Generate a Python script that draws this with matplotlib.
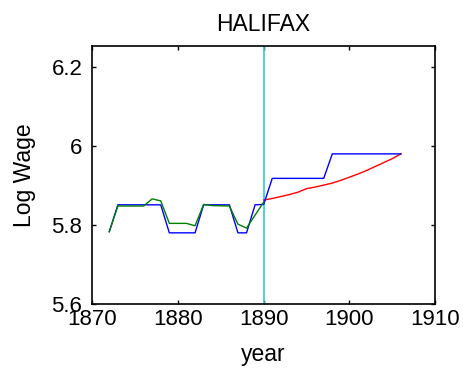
import numpy as np
import matplotlib
matplotlib.use('Agg')
import matplotlib.pyplot as plt
from matplotlib.ticker import FuncFormatter

# observed wage (blue), fitted wage (green) and projected wage (red)
blue_years = [1872, 1873, 1878, 1879, 1882, 1883, 1886, 1887, 1888, 1889, 1890, 1891, 1897, 1898, 1906]
blue_wage = [5.783, 5.851, 5.851, 5.780, 5.780, 5.851, 5.851, 5.780, 5.780, 5.851, 5.852, 5.918, 5.918, 5.980, 5.980]

green_years = [1872, 1873, 1876, 1877, 1878, 1879, 1881, 1882, 1883, 1884, 1886, 1887, 1888, 1889, 1890]
green_wage = [5.783, 5.848, 5.848, 5.866, 5.861, 5.804, 5.804, 5.798, 5.852, 5.849, 5.848, 5.802, 5.792, 5.825, 5.858]

red_years = list(range(1890, 1907))
red_wage = [5.863, 5.867, 5.872, 5.877, 5.883, 5.892, 5.896, 5.901, 5.906,
            5.913, 5.921, 5.929, 5.938, 5.948, 5.958, 5.968, 5.980]

break_year = 1890

plt.rcParams['font.family'] = ['Liberation Sans', 'DejaVu Sans']

fig = plt.figure(figsize=(4.63, 3.78), dpi=100)
ax = fig.add_axes([0.199, 0.196, 0.741, 0.682])

ax.axvline(break_year, color='#33cccc', linewidth=1.2)
ax.plot(red_years, red_wage, color='red', linewidth=1)
ax.plot(blue_years, blue_wage, color='blue', linewidth=1)
ax.plot(green_years, green_wage, color='green', linewidth=1)

ax.set_xlim(1870, 1910)
ax.set_ylim(5.6, 6.253)
ax.set_xticks([1870, 1880, 1890, 1900, 1910])
ax.set_yticks([5.6, 5.8, 6.0, 6.2])
ax.yaxis.set_major_formatter(FuncFormatter(lambda v, p: '%g' % v))

ax.tick_params(direction='in', top=True, right=True, length=3, width=1,
               labelsize=16, colors='black')
ax.tick_params(axis='y', pad=7)
ax.tick_params(axis='x', pad=4)
for s in ax.spines.values():
    s.set_linewidth(1.2)

ax.set_title('HALIFAX', fontsize=16.5, pad=11)
ax.set_xlabel('year', fontsize=16.5, labelpad=9)
ax.set_ylabel('Log Wage', fontsize=16.5, labelpad=11)

fig.savefig('out.png', dpi=100)
